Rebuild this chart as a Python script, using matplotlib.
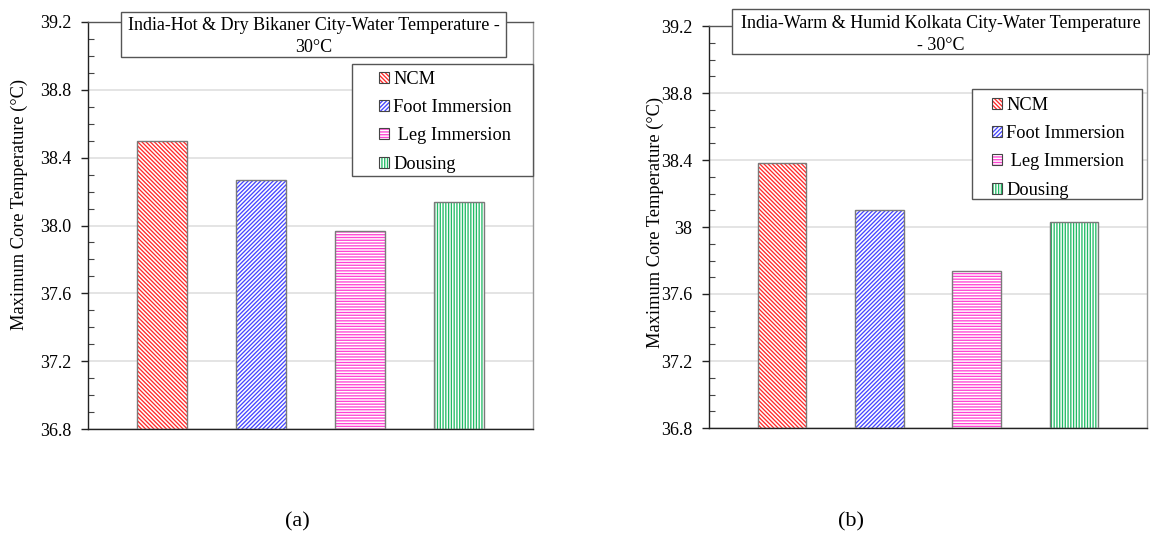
import matplotlib
matplotlib.use("Agg")
import matplotlib.pyplot as plt
from matplotlib.patches import Patch, Rectangle
from matplotlib.legend_handler import HandlerTuple
from matplotlib.ticker import MultipleLocator

plt.rcParams['font.family'] = ['Liberation Serif', 'DejaVu Serif']
plt.rcParams['hatch.linewidth'] = 0.95

# ---- data ----
methods = ["NCM", "Foot Immersion", " Leg Immersion", "Dousing"]
bikaner_temp = [38.50, 38.27, 37.97, 38.14]
kolkata_temp = [38.38, 38.10, 37.74, 38.03]
yticks = [36.8, 37.2, 37.6, 38.0, 38.4, 38.8, 39.2]
yticklabels_a = ["36.8", "37.2", "37.6", "38.0", "38.4", "38.8", "39.2"]
yticklabels_b = ["36.8", "37.2", "37.6", "38", "38.4", "38.8", "39.2"]
title_a = "India-Hot & Dry Bikaner City-Water Temperature -\n30°C"
title_b = "India-Warm & Humid Kolkata City-Water Temperature\n- 30°C"
ylabel = "Maximum Core Temperature (°C)"

colors = ["#ff2a2a", "#4646ff", "#ff44d4", "#22bb66"]
hatches = ["\\" * 8, "/" * 8, "-" * 6, "|" * 6]
outline = "#7a7a7a"

W, H = 1150, 543
fig = plt.figure(figsize=(W / 100, H / 100), dpi=100)


def rect(x0, y0, x1, y1):
    """pixel box (top-left origin) -> figure fraction [l, b, w, h]"""
    return [x0 / W, 1 - y1 / H, (x1 - x0) / W, (y1 - y0) / H]


def panel(box, values, ticklabels, title, tbox, tlines, lbox, lanchor,
          ylab_xy, caption, cap_xy):
    ax = fig.add_axes(rect(*box))
    x = range(1, len(values) + 1)
    for xi, v, c, h in zip(x, values, colors, hatches):
        ax.bar(xi, v - 36.8, bottom=36.8, width=0.5, facecolor="white",
               edgecolor=c, hatch=h, linewidth=0, zorder=2)
        ax.bar(xi, v - 36.8, bottom=36.8, width=0.5, fill=False,
               edgecolor=outline, linewidth=1.0, zorder=3)
    ax.set_xlim(0.25, 4.75)
    ax.set_ylim(36.8, 39.2)
    ax.set_yticks(yticks)
    ax.set_yticklabels(ticklabels, fontsize=13)
    ax.yaxis.set_minor_locator(MultipleLocator(0.1))
    ax.tick_params(axis="y", which="major", direction="out", length=5, width=1,
                   pad=7, color="#222222")
    ax.tick_params(axis="y", which="minor", direction="in", length=4, width=0.8,
                   color="#444444")
    ax.set_xticks([])
    ax.yaxis.grid(True, which="major", color="#e4e4e4", linewidth=1.4)
    ax.set_axisbelow(True)
    ax.spines["left"].set_color("#222222")
    ax.spines["bottom"].set_color("#222222")
    ax.spines["top"].set_color("#555555")
    ax.spines["right"].set_color("#9a9a9a")
    for s in ax.spines.values():
        s.set_linewidth(1.0)
    ax.set_ylabel(ylabel, fontsize=13.2)
    # y-label placed in pixel coordinates
    lx, ly = ylab_xy
    ax.yaxis.set_label_coords((lx - box[0]) / (box[2] - box[0]),
                              (box[3] - ly) / (box[3] - box[1]))

    # title box
    x0, y0, x1, y1 = tbox
    l, b, w, h = rect(x0, y0, x1, y1)
    fig.patches.append(Rectangle((l, b), w, h, transform=fig.transFigure,
                                 facecolor="white", edgecolor="#555555",
                                 linewidth=1.0, zorder=5))
    for line, ty in zip(title.split("\n"), tlines):
        fig.text((x0 + x1) / 2 / W, 1 - ty / H, line, ha="center", va="center",
                 fontsize=13, zorder=6)

    # legend box
    x0, y0, x1, y1 = lbox
    l, b, w, h = rect(x0, y0, x1, y1)
    fig.patches.append(Rectangle((l, b), w, h, transform=fig.transFigure,
                                 facecolor="white", edgecolor="#555555",
                                 linewidth=1.0, zorder=5))
    handles = [(Patch(facecolor="white", edgecolor=c, hatch=hh, linewidth=0),
                Patch(fill=False, edgecolor="#444444", linewidth=0.8))
               for c, hh in zip(colors, hatches)]
    leg = fig.legend(handles, methods, loc="upper left",
                     bbox_to_anchor=(lanchor[0] / W, 1 - lanchor[1] / H),
                     frameon=False, fontsize=13.2, handlelength=0.55,
                     handleheight=0.55, handletextpad=0.25, labelspacing=0.62,
                     borderpad=0.3, handler_map={tuple: HandlerTuple(ndivide=1)})
    leg.set_zorder(7)

    fig.text(cap_xy[0] / W, 1 - cap_xy[1] / H, caption, ha="center", va="center",
             fontsize=16)
    return ax


panel((88, 22, 533, 429), bikaner_temp, yticklabels_a, title_a,
      (121, 12, 506, 57), (26, 47), (352, 64, 533, 176), (364, 56), (28, 205),
      "(a)", (297, 522))
panel((709, 26, 1147, 428), kolkata_temp, yticklabels_b, title_b,
      (732, 9, 1149, 54), (24, 45), (972, 89, 1142, 199), (977, 82), (664, 222),
      "(b)", (851, 522))

fig.savefig("out.png", dpi=100)
